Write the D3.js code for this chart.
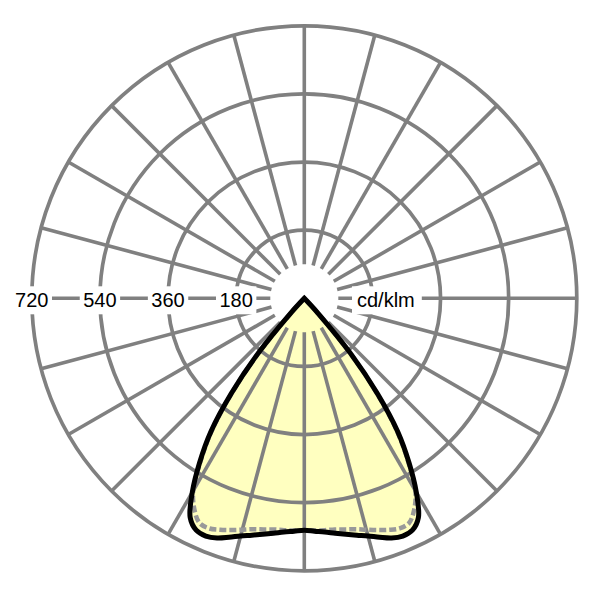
<!DOCTYPE html>
<html>
<head>
<meta charset="utf-8">
<script src="https://cdn.jsdelivr.net/npm/d3@7"></script>
<style>
  html, body { margin: 0; padding: 0; background: #fff; }
  svg { display: block; }
</style>
</head>
<body>
<svg id="polar" width="600" height="600"></svg>
<script>
// gamma angles (deg from nadir), one half of the symmetric curve
const gammaDeg = [0, 2.5, 5, 7.5, 10, 12.5, 15, 17.5, 20, 22.5, 25, 27.5, 30, 32.5, 35, 37.5, 40, 42.5, 45];
// C0/C180 plane, solid line
const solidCdKlm = [613, 616, 620, 626, 633, 641, 650, 662, 674, 680, 676, 653, 592, 515, 431, 317, 190, 53, 0];
// C90/C270 plane, dashed line
const dashedCdKlm = [613, 614, 615, 616, 620, 625, 633, 642, 651, 658, 655, 629, 587, 510, 425, 312, 185, 50, 0];

const ringValues = [180, 360, 540, 720];
const ringLabels = ["180", "360", "540", "720"];
const unitLabel = "cd/klm";

function drawPolar() {
  const svg = d3.select("#polar");
  const cx = 304.3, cy = 298.3;
  const outerR = 272.5, innerR = 34;
  const gridColor = "#808080";

  const r = d3.scaleLinear().domain([0, 720]).range([0, outerR]);

  const g = svg.append("g").attr("transform", `translate(${cx},${cy})`);

  // build closed outline: apex -> left half (down to nadir) -> right half -> apex
  const buildPoints = values => {
    const pts = [[0, 0]];
    for (let i = gammaDeg.length - 2; i >= 0; i--) {
      pts.push([Math.PI + gammaDeg[i] * Math.PI / 180, r(values[i])]);
    }
    for (let i = 1; i < gammaDeg.length - 1; i++) {
      pts.push([Math.PI - gammaDeg[i] * Math.PI / 180, r(values[i])]);
    }
    pts.push([0, 0]);
    return pts;
  };

  const radial = d3.lineRadial()
    .angle(d => d[0])
    .radius(d => d[1])
    .curve(d3.curveCatmullRom.alpha(0.5));

  const solidPath = radial(buildPoints(solidCdKlm)) + "Z";
  const dashedPath = radial(buildPoints(dashedCdKlm)) + "Z";

  // fill under the grid
  g.append("path")
    .attr("d", solidPath)
    .attr("fill", "#ffffc0")
    .attr("stroke", "none");

  // spokes every 15 degrees
  const spokeAngles = d3.range(0, 360, 15);
  g.append("g")
    .selectAll("line")
    .data(spokeAngles)
    .enter().append("line")
    .attr("x1", d => innerR * Math.cos(d * Math.PI / 180))
    .attr("y1", d => innerR * Math.sin(d * Math.PI / 180))
    .attr("x2", d => outerR * Math.cos(d * Math.PI / 180))
    .attr("y2", d => outerR * Math.sin(d * Math.PI / 180))
    .attr("stroke", gridColor)
    .attr("stroke-width", 3.6);

  // rings
  g.append("g")
    .selectAll("circle")
    .data(ringValues)
    .enter().append("circle")
    .attr("r", d => r(d))
    .attr("fill", "none")
    .attr("stroke", gridColor)
    .attr("stroke-width", 3.7);

  // ring labels on the left with white boxes
  const fontSize = 20;
  const labels = g.append("g")
    .selectAll("g")
    .data(ringValues)
    .enter().append("g");

  labels.append("rect").attr("fill", "#fff");
  labels.append("text")
    .attr("x", d => -r(d))
    .attr("y", 9)
    .attr("text-anchor", "middle")
    .style("font-family", "'Liberation Sans', Arial, sans-serif")
    .style("font-size", fontSize + "px")
    .style("fill", "#000")
    .text((d, i) => ringLabels[i]);

  labels.each(function () {
    const t = d3.select(this).select("text");
    const b = t.node().getBBox();
    d3.select(this).select("rect")
      .attr("x", b.x - 3.5)
      .attr("y", b.y - 3)
      .attr("width", b.width + 7)
      .attr("height", b.height + 6);
  });

  // unit label on the right
  const unit = g.append("g");
  const unitRect = unit.append("rect").attr("fill", "#fff");
  const unitText = unit.append("text")
    .attr("x", 357 - cx)
    .attr("y", 9)
    .style("font-family", "'Liberation Sans', Arial, sans-serif")
    .style("font-size", fontSize + "px")
    .style("fill", "#000")
    .text(unitLabel);
  const ub = unitText.node().getBBox();
  unitRect
    .attr("x", ub.x - 5)
    .attr("y", ub.y - 3)
    .attr("width", ub.width + 12)
    .attr("height", ub.height + 6);

  // curves
  g.append("path")
    .attr("d", dashedPath)
    .attr("fill", "none")
    .attr("stroke", "#999999")
    .attr("stroke-width", 4.5)
    .attr("stroke-dasharray", "7,3");

  g.append("path")
    .attr("d", solidPath)
    .attr("fill", "none")
    .attr("stroke", "#000")
    .attr("stroke-width", 5)
    .attr("stroke-linejoin", "miter");
}

drawPolar();
</script>
</body>
</html>
